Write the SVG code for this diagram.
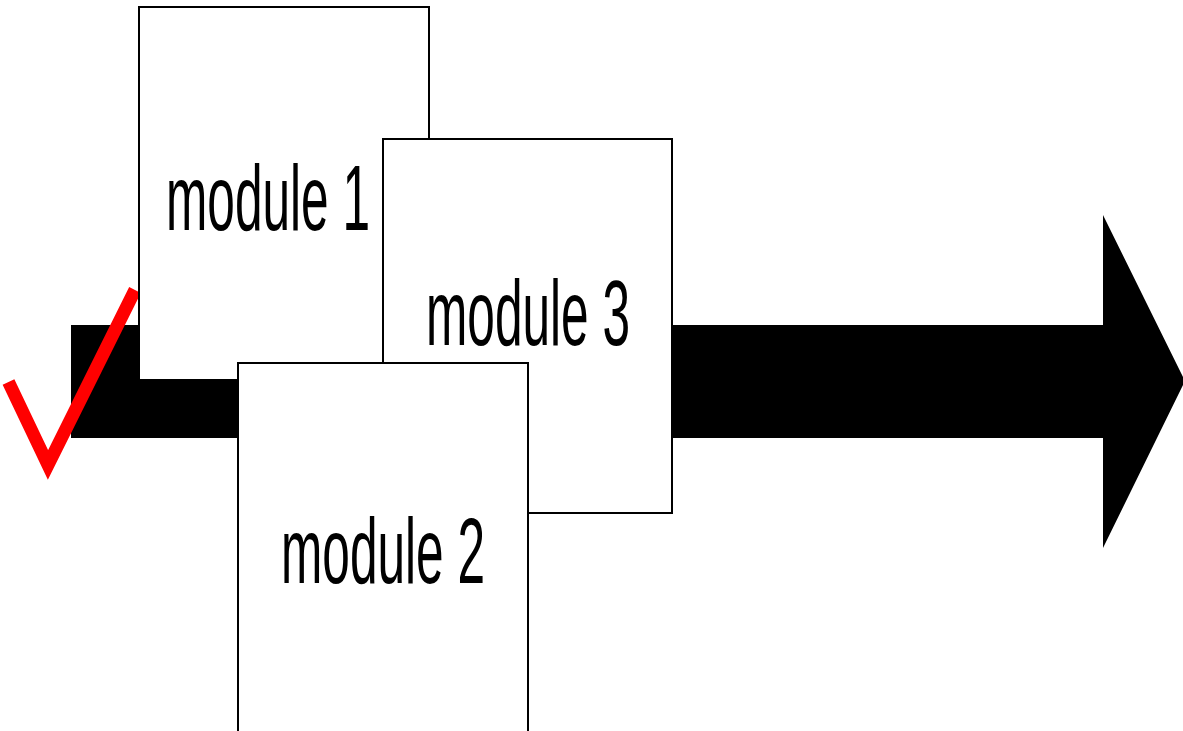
<svg xmlns="http://www.w3.org/2000/svg" width="1183" height="731" viewBox="0 0 1183 731">
<style>
.box{fill:#fff;stroke:#000;stroke-width:2}
.lbl{font-family:"Liberation Sans",Arial,sans-serif;font-size:93px;fill:#000}
</style>
<rect width="1183" height="731" fill="#fff"/>
<g id="connectors">
<polygon id="arrow" points="71,325 1103,325 1103,215 1185,381 1103,548 1103,438 71,438" fill="#000"/>
</g>
<g id="check">
<polyline points="8.5,382 48,465 135,290" fill="none" stroke="#f00" stroke-width="13" stroke-linejoin="miter"/>
</g>
<g id="module1">
<rect class="box" x="139" y="7" width="290" height="373"/>
<text class="lbl" x="166" y="230" textLength="204" lengthAdjust="spacingAndGlyphs">module 1</text>
</g>
<g id="module3">
<rect class="box" x="383" y="139" width="289" height="374"/>
<text class="lbl" x="426" y="345" textLength="204" lengthAdjust="spacingAndGlyphs">module 3</text>
</g>
<g id="module2">
<rect class="box" x="238" y="363" width="290" height="380"/>
<text class="lbl" x="281" y="583" textLength="204" lengthAdjust="spacingAndGlyphs">module 2</text>
</g>
</svg>
